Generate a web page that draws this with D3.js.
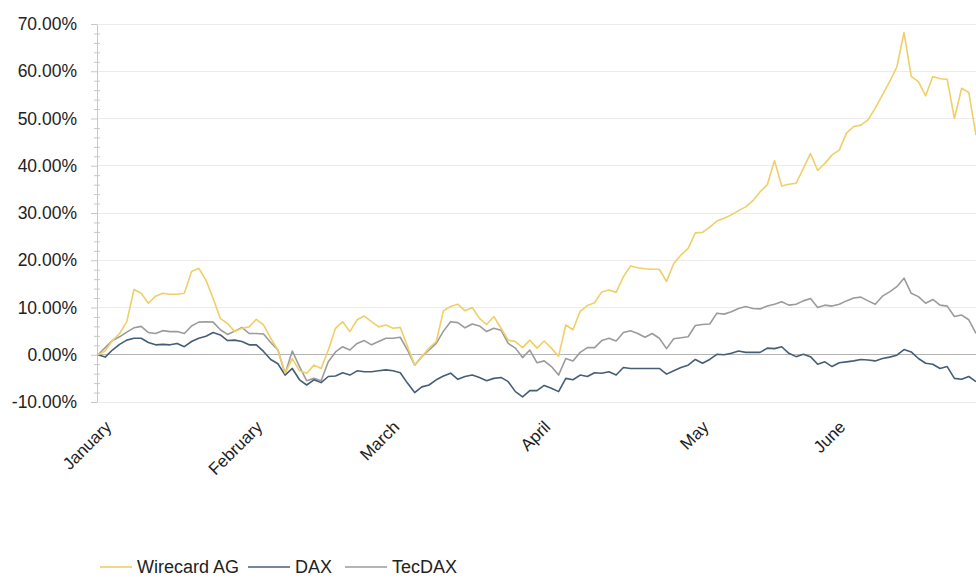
<!DOCTYPE html>
<html>
<head>
<meta charset="utf-8">
<script src="https://cdn.jsdelivr.net/npm/d3@7"></script>
<style>
  html, body { margin: 0; padding: 0; background: #ffffff; }
  svg { display: block; font-family: "Liberation Sans", Arial, sans-serif; }
</style>
</head>
<body>
<svg id="chart" width="976" height="581"></svg>
<script>
// ---------- data ----------
const months = ["January", "February", "March", "April", "May", "June"];
const monthIndex = [0, 21, 40, 61, 83, 102];
const yTicks = [-10, 0, 10, 20, 30, 40, 50, 60, 70];
const seriesNames = ["Wirecard AG", "DAX", "TecDAX"];

const wirecard = [
  0, 0.8, 3.0, 4.5, 7.0, 13.8, 13.0, 10.9, 12.4, 13.0,
  12.8, 12.8, 13.0, 17.6, 18.3, 15.8, 11.9, 7.7, 6.6, 4.9,
  5.6, 5.9, 7.5, 6.3, 3.5, 1.0, -3.9, -0.8, -3.4, -3.9,
  -2.2, -2.9, 1.0, 5.6, 7.0, 4.9, 7.4, 8.2, 7.0, 5.9,
  6.3, 5.6, 5.8, 1.8, -2.2, -0.4, 1.4, 2.8, 9.3, 10.2,
  10.7, 9.3, 10.0, 7.7, 6.4, 8.1, 5.6, 3.1, 2.8, 1.5,
  3.1, 1.4, 2.9, 1.4, -0.3, 6.3, 5.3, 9.2, 10.4, 11.0,
  13.3, 13.7, 13.2, 16.5, 18.8, 18.4, 18.2, 18.1, 18.1, 15.5,
  19.3, 21.1, 22.5, 25.8, 25.9, 27.0, 28.3, 28.9, 29.6, 30.5,
  31.3, 32.6, 34.5, 36.0, 41.1, 35.7, 36.1, 36.3, 39.4, 42.6,
  39.0, 40.5, 42.3, 43.3, 46.9, 48.3, 48.6, 49.7, 52.2, 55.0,
  57.8, 60.9, 68.2, 58.9, 57.8, 54.8, 58.9, 58.4, 58.3, 50.0,
  56.4, 55.5, 46.5
];

const dax = [
  0, -0.5, 1.0, 2.2, 3.1, 3.5, 3.5, 2.6, 2.1, 2.2,
  2.1, 2.4, 1.7, 2.8, 3.5, 3.9, 4.7, 4.2, 3.0, 3.1,
  2.8, 2.1, 2.1, 0.7, -1.0, -1.9, -4.3, -2.9, -5.3, -6.4,
  -5.3, -5.9, -4.6, -4.5, -3.8, -4.3, -3.4, -3.6, -3.6, -3.4,
  -3.2, -3.4, -3.8, -6.0, -8.0, -6.8, -6.4, -5.3, -4.5, -3.9,
  -5.2, -4.6, -4.3, -4.8, -5.5, -5.0, -4.8, -5.7, -7.8, -8.9,
  -7.6, -7.6, -6.5, -7.1, -7.8, -5.0, -5.3, -4.3, -4.6, -3.8,
  -3.9, -3.6, -4.3, -2.7, -2.9, -2.9, -2.9, -2.9, -2.9, -4.1,
  -3.4, -2.7, -2.2, -1.0, -1.8, -1.0, 0.1, 0.0, 0.3, 0.8,
  0.5, 0.5, 0.5, 1.4, 1.3, 1.7, 0.3, -0.4, 0.1, -0.4,
  -2.0, -1.5, -2.5, -1.7, -1.5, -1.3, -1.0, -1.1, -1.3, -0.8,
  -0.5, -0.1, 1.1, 0.6, -0.8, -1.8, -2.0, -2.9, -2.5, -5.0,
  -5.2, -4.6, -5.7
];

const tecdax = [
  0, 1.5, 3.0, 3.8, 4.8, 5.7, 6.0, 4.7, 4.5, 5.1,
  4.9, 4.9, 4.5, 6.1, 6.9, 7.0, 6.9, 5.3, 4.3, 5.0,
  5.8, 4.5, 4.5, 4.4, 2.6, 1.0, -4.0, 0.8, -2.5, -5.5,
  -5.0, -5.5, -1.5, 0.6, 1.7, 1.0, 2.4, 3.0, 2.1, 2.8,
  3.5, 3.5, 3.7, 1.0, -2.2, -0.4, 1.0, 2.4, 5.0, 7.0,
  6.8, 5.7, 6.5, 6.1, 4.9, 5.6, 5.2, 2.4, 1.4, -0.6,
  1.0, -1.7, -1.3, -2.5, -4.3, -0.8, -1.3, 0.5, 1.5, 1.5,
  3.0, 3.5, 2.9, 4.7, 5.1, 4.5, 3.7, 4.5, 3.5, 1.3,
  3.4, 3.6, 3.8, 6.2, 6.4, 6.5, 8.8, 8.6, 9.1, 9.8,
  10.2, 9.8, 9.7, 10.3, 10.7, 11.2, 10.5, 10.7, 11.4, 11.9,
  10.0, 10.5, 10.3, 10.7, 11.4, 12.0, 12.2, 11.4, 10.7, 12.4,
  13.3, 14.4, 16.2, 13.0, 12.3, 10.9, 11.7, 10.5, 10.3, 8.1,
  8.4, 7.4, 4.5
];

// ---------- drawing ----------
const W = 976, H = 581;
const margin = { left: 97, right: 0, top: 24, bottom: 179 };
const colors = { "Wirecard AG": "#eecf68", "DAX": "#465e75", "TecDAX": "#9b9b9b" };
const seriesData = { "Wirecard AG": wirecard, "DAX": dax, "TecDAX": tecdax };

const svg = d3.select("#chart");
svg.append("rect").attr("width", W).attr("height", H).attr("fill", "#ffffff");

const x = d3.scaleLinear().domain([0, wirecard.length - 1]).range([98, 976]);
const y = d3.scaleLinear().domain([-10, 70]).range([H - margin.bottom, margin.top]);

// gridlines
svg.append("g").selectAll("line").data(yTicks).join("line")
  .attr("x1", margin.left).attr("x2", W)
  .attr("y1", d => y(d)).attr("y2", d => y(d))
  .attr("stroke", d => d === 0 ? "#b4b4b4" : "#ececec")
  .attr("stroke-width", 1)
  .attr("shape-rendering", "crispEdges");

// minor ticks (every 2%)
const minorTicks = d3.range(-10, 70.001, 2).filter(v => v % 10 !== 0);
const minorAxis = d3.axisLeft(y).tickValues(minorTicks).tickFormat("").tickSize(4).tickSizeOuter(0);
const gMinor = svg.append("g").attr("transform", `translate(${margin.left},0)`).call(minorAxis);
gMinor.select(".domain").remove();
gMinor.selectAll("line").attr("stroke", "#c8c8c8").attr("x2", 3).attr("x1", -3);

// major y axis
const yAxis = d3.axisLeft(y).tickValues(yTicks)
  .tickFormat(d => d.toFixed(2) + "%").tickSize(6).tickPadding(14).tickSizeOuter(0);
const gY = svg.append("g").attr("transform", `translate(${margin.left},0)`).call(yAxis);
gY.select(".domain").attr("stroke", "#c8c8c8");
gY.selectAll(".tick line").attr("stroke", "#c8c8c8");
gY.selectAll(".tick text").attr("fill", "#222").attr("font-size", "17.5px")
  .attr("font-family", "'Liberation Sans', Arial, sans-serif");

// x axis month labels
const xAxis = d3.axisBottom(x).tickValues(monthIndex)
  .tickFormat((d, i) => months[i]).tickSize(0).tickSizeOuter(0);
const gX = svg.append("g").attr("transform", `translate(0,${y(-10)})`).call(xAxis);
gX.select(".domain").remove();
gX.selectAll(".tick text")
  .attr("fill", "#222").attr("font-size", "17px")
  .attr("font-family", "'Liberation Sans', Arial, sans-serif")
  .attr("text-anchor", "end")
  .attr("dy", null).attr("y", 0)
  .attr("transform", "translate(14,26) rotate(-45)");

// lines
const line = d3.line().x((d, i) => x(i)).y(d => y(d));
const drawOrder = ["TecDAX", "DAX", "Wirecard AG"];
svg.append("g").selectAll("path").data(drawOrder).join("path")
  .attr("d", k => line(seriesData[k]))
  .attr("fill", "none")
  .attr("stroke", k => colors[k])
  .attr("stroke-width", 1.6)
  .attr("stroke-linejoin", "round");

// legend
const legendY = 567;
const legendItems = [
  { name: "Wirecard AG", x0: 100, x1: 132 },
  { name: "DAX", x0: 248, x1: 290 },
  { name: "TecDAX", x0: 345, x1: 387 }
];
const lg = svg.append("g");
legendItems.forEach(it => {
  lg.append("line").attr("x1", it.x0).attr("x2", it.x1)
    .attr("y1", legendY).attr("y2", legendY)
    .attr("stroke", colors[it.name]).attr("stroke-width", 1.6);
  lg.append("text").attr("x", it.x1 + 5).attr("y", legendY)
    .attr("dy", "0.35em").attr("font-size", "18px").attr("fill", "#222")
    .attr("font-family", "'Liberation Sans', Arial, sans-serif")
    .text(it.name);
});
</script>
</body>
</html>
